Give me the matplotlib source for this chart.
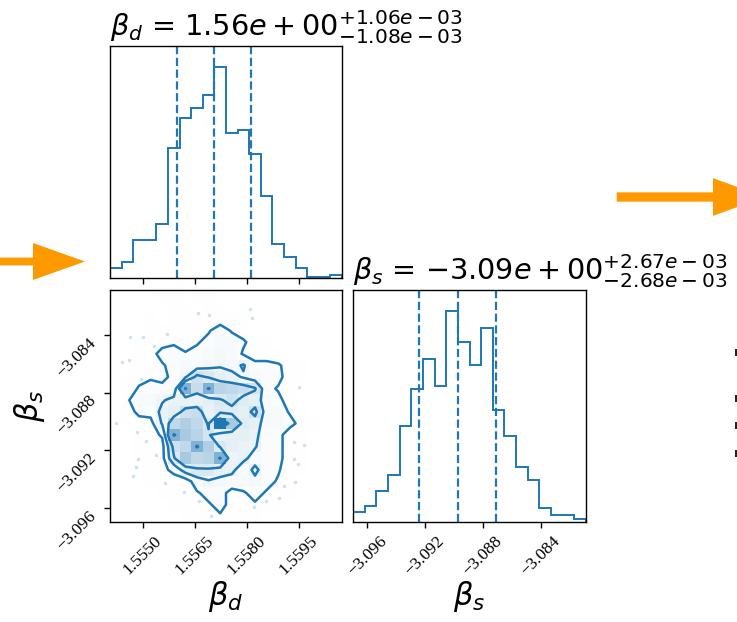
import numpy as np
import matplotlib
matplotlib.use("Agg")
import matplotlib.pyplot as plt
from matplotlib.colors import LinearSegmentedColormap
from matplotlib.patches import FancyArrow, Rectangle

# ---------------- data ----------------
labels = [r"$\beta_d$", r"$\beta_s$"]
range_d = [1.55406, 1.56075]
range_s = [-3.09697, -3.08088]
ticks_d = [1.5550, 1.5565, 1.5580, 1.5595]
ticks_s = [-3.096, -3.092, -3.088, -3.084]
tick_labels_d = ["1.5550", "1.5565", "1.5580", "1.5595"]
tick_labels_s = ["\u22123.096", "\u22123.092", "\u22123.088", "\u22123.084"]

# 1D marginal histogram counts (20 bins each, low -> high)
hist_d = [9, 15, 35, 35, 49, 118, 146, 155, 167, 192, 132, 135, 113, 75, 31, 19, 9, 1, 1, 3]
hist_s = [9, 15, 28, 43, 87, 121, 148, 124, 192, 164, 143, 177, 102, 78, 50, 38, 13, 6, 6, 3]

# 16/50/84 percent quantiles
quant_d = [1.55598, 1.55706, 1.55812]
quant_s = [-3.09242, -3.08974, -3.08707]

# 2D histogram counts: rows from high beta_s (top) to low, columns low -> high beta_d
grid_counts = [
    [0, 0, 0, 0, 1, 1, 0, 1, 1, 0, 0, 0, 0, 0, 0, 0, 0, 0, 0, 0],
    [0, 0, 0, 0, 0, 1, 1, 0, 1, 1, 0, 1, 0, 0, 0, 0, 0, 0, 0, 0],
    [0, 0, 0, 1, 0, 1, 1, 1, 2, 1, 1, 1, 0, 0, 0, 0, 0, 0, 0, 0],
    [0, 0, 0, 1, 1, 2, 2, 1, 3, 6, 3, 2, 0, 0, 0, 0, 0, 0, 0, 0],
    [0, 0, 1, 1, 2, 3, 1, 3, 5, 6, 6, 4, 2, 1, 0, 0, 0, 0, 0, 0],
    [0, 0, 1, 2, 5, 5, 4, 5, 6, 7, 6, 3, 1, 1, 1, 0, 0, 0, 0, 0],
    [0, 0, 1, 2, 3, 5, 6, 6, 7, 8, 7, 9, 5, 5, 4, 2, 1, 0, 0, 0],
    [0, 1, 2, 3, 2, 5, 8, 15, 13, 11, 10, 8, 6, 5, 5, 1, 1, 0, 0, 0],
    [0, 1, 4, 5, 5, 5, 24, 16, 24, 18, 17, 16, 14, 5, 3, 1, 0, 0, 0, 0],
    [0, 3, 6, 6, 8, 10, 10, 10, 11, 13, 15, 12, 11, 6, 5, 1, 0, 0, 0, 0],
    [0, 1, 5, 5, 10, 11, 15, 16, 10, 12, 12, 11, 15, 6, 6, 3, 1, 0, 0, 0],
    [0, 1, 1, 2, 9, 17, 19, 17, 13, 32, 20, 12, 11, 6, 6, 5, 2, 1, 0, 0],
    [0, 0, 1, 2, 4, 24, 20, 18, 14, 10, 11, 11, 10, 5, 5, 1, 1, 0, 0, 0],
    [0, 0, 1, 1, 2, 15, 17, 24, 19, 13, 11, 10, 9, 5, 5, 1, 1, 0, 0, 0],
    [0, 0, 1, 2, 2, 13, 20, 17, 18, 24, 9, 10, 6, 5, 5, 1, 1, 0, 0, 0],
    [0, 0, 1, 1, 2, 5, 11, 13, 13, 11, 10, 5, 10, 5, 4, 1, 1, 0, 0, 0],
    [0, 0, 0, 1, 1, 1, 1, 6, 8, 7, 6, 6, 7, 5, 3, 1, 0, 0, 0, 0],
    [0, 0, 0, 0, 1, 1, 2, 3, 5, 5, 2, 3, 5, 3, 1, 1, 0, 0, 0, 0],
    [0, 0, 0, 0, 0, 1, 1, 2, 3, 5, 2, 1, 3, 1, 1, 0, 0, 0, 0, 0],
    [0, 0, 0, 0, 0, 0, 1, 1, 1, 3, 1, 1, 1, 0, 0, 0, 0, 0, 0, 0],
]

# density levels of the four contours (0.5, 1, 1.5, 2 sigma)
contour_levels = [3.5, 8.5, 13.5, 23.5]

# scattered outlying samples visible outside the contours
outlier_d = [1.55661, 1.55692, 1.55464, 1.55502, 1.55571, 1.55534, 1.55440, 1.55461,
             1.55495, 1.55810, 1.55816, 1.55950, 1.55423, 1.55483, 1.55510, 1.55538,
             1.55488, 1.55481, 1.55473, 1.55565, 1.55619, 1.55664, 1.55696, 1.55938,
             1.55966, 1.55938, 1.55947, 1.55940, 1.55909, 1.55894, 1.55856, 1.55822]
outlier_s = [-3.08245, -3.08261, -3.08416, -3.08412, -3.08393, -3.08476, -3.08585, -3.08573,
             -3.08707, -3.08222, -3.08284, -3.08762, -3.09007, -3.09072, -3.09134, -3.09233,
             -3.09257, -3.09319, -3.09381, -3.09427, -3.09492, -3.09550, -3.09658, -3.09141,
             -3.09164, -3.09257, -3.09295, -3.09423, -3.09446, -3.09534, -3.09550, -3.09596]

# ---------------- style ----------------
plt.rcParams["font.family"] = ["Liberation Serif", "DejaVu Serif"]
plt.rcParams["mathtext.fontset"] = "dejavusans"
plt.rcParams["axes.linewidth"] = 1.0
plt.rcParams["xtick.major.size"] = 4.5
plt.rcParams["ytick.major.size"] = 4.5
plt.rcParams["xtick.major.width"] = 1.0
plt.rcParams["ytick.major.width"] = 1.0

C = "#1f77b4"
ORANGE = "#ff9900"
TICK_FS = 12.5
LABEL_FS = 22
TITLE_FS = 20.7

W, HP = 737, 622
fig = plt.figure(figsize=(W / 100, HP / 100), dpi=100)


def box(l, t, r, b):
    return [l / W, 1 - b / HP, (r - l) / W, (b - t) / HP]


ax_d = fig.add_axes(box(110, 46, 342, 278))
ax_2d = fig.add_axes(box(110, 290, 342, 522))
ax_s = fig.add_axes(box(353, 290, 586, 522))


def fmt(v):
    return "{0:.2e}".format(v)


def hist1d(ax, counts, rng, q, label):
    edges = np.linspace(rng[0], rng[1], len(counts) + 1)
    ax.stairs(counts, edges, color=C, lw=1.4)
    ax.set_xlim(rng)
    ax.set_ylim(0, 1.1 * max(counts))
    for v in q:
        ax.axvline(v, ls="--", color=C, lw=1.6)
    med, lo, hi = q[1], q[1] - q[0], q[2] - q[1]
    title = "{0} = ${{{1}}}_{{-{2}}}^{{+{3}}}$".format(label, fmt(med), fmt(lo), fmt(hi))
    ax.set_title(title, loc="left", fontsize=TITLE_FS, pad=1.0, fontfamily="DejaVu Sans")
    ax.set_yticks([])


hist1d(ax_d, hist_d, range_d, quant_d, labels[0])
ax_d.set_xticks(ticks_d)
ax_d.set_xticklabels([])

hist1d(ax_s, hist_s, range_s, quant_s, labels[1])
ax_s.set_xticks(ticks_s, labels=tick_labels_s, fontsize=TICK_FS)
for t in ax_s.get_xticklabels():
    t.set_rotation(45)
ax_s.set_xlabel(labels[1], fontsize=LABEL_FS)
ax_s.xaxis.set_label_coords(0.5, -0.245)

# ---------------- 2D histogram (corner style) ----------------
H = np.array(grid_counts, dtype=float)[::-1].T  # H[ix, iy]
X = np.linspace(range_d[0], range_d[1], H.shape[0] + 1)
Y = np.linspace(range_s[0], range_s[1], H.shape[1] + 1)
V = np.array(contour_levels, dtype=float)

X1, Y1 = 0.5 * (X[1:] + X[:-1]), 0.5 * (Y[1:] + Y[:-1])
H2 = H.min() + np.zeros((H.shape[0] + 4, H.shape[1] + 4))
H2[2:-2, 2:-2] = H
H2[2:-2, 1] = H[:, 0]
H2[2:-2, -2] = H[:, -1]
H2[1, 2:-2] = H[0]
H2[-2, 2:-2] = H[-1]
H2[1, 1] = H[0, 0]
H2[1, -2] = H[0, -1]
H2[-2, 1] = H[-1, 0]
H2[-2, -2] = H[-1, -1]
X2 = np.concatenate([X1[0] + np.array([-2, -1]) * np.diff(X1[:2]), X1,
                     X1[-1] + np.array([1, 2]) * np.diff(X1[-2:])])
Y2 = np.concatenate([Y1[0] + np.array([-2, -1]) * np.diff(Y1[:2]), Y1,
                     Y1[-1] + np.array([1, 2]) * np.diff(Y1[-2:])])

white_cmap = LinearSegmentedColormap.from_list("white_cmap", [(1, 1, 1), (1, 1, 1)], N=2)
density_cmap = LinearSegmentedColormap.from_list("density_cmap", [C, (1, 1, 1, 0)])

ax_2d.plot(outlier_d, outlier_s, "o", color=C, ms=2.5, mec="none", alpha=0.22, zorder=-1)
ax_2d.contourf(X2, Y2, H2.T, [V.min(), H.max()], cmap=white_cmap, antialiased=False)
ax_2d.pcolormesh(X, Y, H.max() - H.T, cmap=density_cmap)
ax_2d.contour(X2, Y2, H2.T, V, colors=C, linewidths=1.8)
ax_2d.set_xlim(range_d)
ax_2d.set_ylim(range_s)

ax_2d.set_xticks(ticks_d, labels=tick_labels_d, fontsize=TICK_FS)
ax_2d.set_yticks(ticks_s, labels=tick_labels_s, fontsize=TICK_FS)
for t in ax_2d.get_xticklabels():
    t.set_rotation(45)
for t in ax_2d.get_yticklabels():
    t.set_rotation(45)
    t.set_va("top")
ax_2d.set_xlabel(labels[0], fontsize=LABEL_FS)
ax_2d.xaxis.set_label_coords(0.5, -0.245)
ax_2d.set_ylabel(labels[1], fontsize=LABEL_FS)
ax_2d.yaxis.set_label_coords(-0.27, 0.5)

# ---------------- decorations: orange arrows and edge fragments ----------------
tr = fig.dpi_scale_trans
fig.add_artist(FancyArrow(-0.2, (HP - 261.5) / 100, 1.05, 0, width=0.078, head_width=0.37,
                          head_length=0.52, length_includes_head=True, color=ORANGE, lw=0,
                          transform=tr))
fig.add_artist(FancyArrow(6.167, (HP - 197) / 100, 1.483, 0, width=0.093, head_width=0.377,
                          head_length=0.52, length_includes_head=True, color=ORANGE, lw=0,
                          transform=tr))
for yc in [352, 398, 425, 453]:
    fig.add_artist(Rectangle((7.345, (HP - yc - 3.5) / 100), 0.03, 0.07, color="#222222",
                             lw=0, transform=tr))

fig.savefig("out.png", dpi=100)
